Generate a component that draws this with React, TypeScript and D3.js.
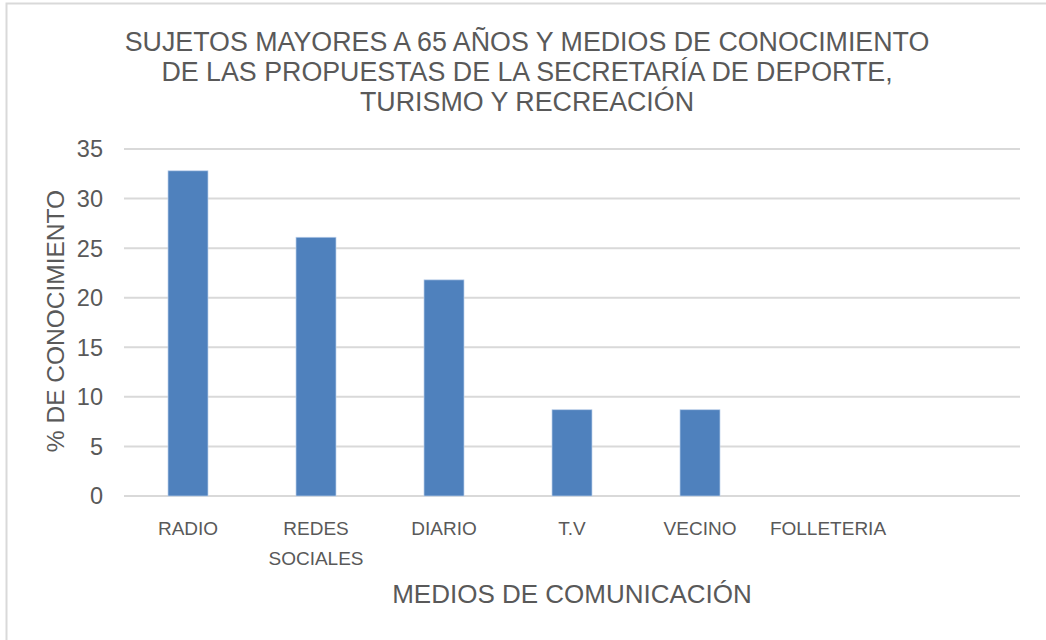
import React from "react";
import { scaleBand, scaleLinear } from "d3";

const categories = ["RADIO", "REDES SOCIALES", "DIARIO", "T.V", "VECINO", "FOLLETERIA"];
const values = [32.8, 26.1, 21.8, 8.7, 8.7, 0];
const yTicks = [0, 5, 10, 15, 20, 25, 30, 35];
const titleLines = [
  "SUJETOS MAYORES A 65 AÑOS Y MEDIOS DE CONOCIMIENTO",
  "DE LAS PROPUESTAS DE LA SECRETARÍA DE DEPORTE,",
  "TURISMO Y RECREACIÓN",
];

const W = 1046;
const H = 640;
const left = 124;
const right = 1020;
const top = 149;
const bottom = 496;
const gray = "#595959";
const font = "'Liberation Sans', Arial, sans-serif";

export default function App() {
  // one empty slot on the right, like the original
  const x = scaleBand<string>()
    .domain([...categories, "__empty"])
    .range([left, right]);
  const y = scaleLinear().domain([0, 35]).range([bottom, top]);
  const barW = x.bandwidth() * 0.3125;

  return (
    <svg
      width={W}
      height={H}
      style={{ position: "absolute", left: 0, top: 0, background: "#fff" }}
    >
      <rect x={6.5} y={3.5} width={W + 20} height={H + 20} fill="#fff" stroke="#d9d9d9" strokeWidth={2} />

      {titleLines.map((t, i) => (
        <text
          key={i}
          x={527}
          y={50.5 + i * 30}
          textAnchor="middle"
          fontFamily={font}
          fontSize={26.8}
          fill={gray}
        >
          {t}
        </text>
      ))}

      {yTicks.map((t) => (
        <g key={t}>
          <line x1={left} x2={right} y1={y(t)} y2={y(t)} stroke="#d9d9d9" strokeWidth={2} />
          <text
            x={103}
            y={y(t)}
            dy="0.36em"
            textAnchor="end"
            fontFamily={font}
            fontSize={23.5}
            fill={gray}
          >
            {t}
          </text>
        </g>
      ))}

      {categories.map((c, i) => {
        const cx = (x(c) as number) + x.bandwidth() / 2;
        const v = values[i];
        return (
          <g key={c}>
            {v > 0 && (
              <rect
                x={cx - barW / 2}
                y={y(v)}
                width={barW}
                height={y(0) - y(v)}
                fill="#4f81bd"
                stroke="#bcd0ea"
                strokeWidth={0.7}
              />
            )}
            {c.split(" ").map((w, j) => (
              <text
                key={j}
                x={cx}
                y={535 + j * 30}
                textAnchor="middle"
                fontFamily={font}
                fontSize={19}
                fill={gray}
              >
                {w}
              </text>
            ))}
          </g>
        );
      })}

      <text
        x={572}
        y={603}
        textAnchor="middle"
        fontFamily={font}
        fontSize={26}
        fill={gray}
      >
        MEDIOS DE COMUNICACIÓN
      </text>
      <text
        transform="translate(64,321) rotate(-90)"
        textAnchor="middle"
        fontFamily={font}
        fontSize={24.5}
        fill={gray}
      >
        % DE CONOCIMIENTO
      </text>
    </svg>
  );
}
